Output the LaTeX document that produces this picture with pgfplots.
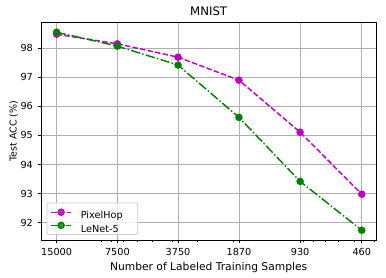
\documentclass[border=0pt]{standalone}
\usepackage{fontspec}
\setmainfont{DejaVu Sans}
\usepackage{pgfplots}
\pgfplotsset{compat=1.18}
\definecolor{mplm}{rgb}{0.75,0,0.75}
\definecolor{mplg}{rgb}{0,0.5,0}
\definecolor{gridc}{HTML}{B0B0B0}
\newcommand{\legtext}[1]{\makebox[53.7pt][l]{\rule[-3.7pt]{0pt}{18.7pt}#1}}
\begin{document}
\begin{tikzpicture}
\useasboundingbox (-41.3pt,-38pt) rectangle (344.7pt,240pt);
\begin{axis}[
  scale only axis,
  width=334.7pt, height=217.7pt,
  xmode=log, x dir=reverse,
  xmin=391, xmax=17880,
  ymin=91.405, ymax=98.89,
  xtick={15000,7500,3750,1870,930,460},
  xticklabels={15000,7500,3750,1870,930,460},
  minor xtick={9000,8000,7000,6000,5000,4000,3000,2000,900,800,700,600,500,400},
  ytick={92,93,94,95,96,97,98},
  yticklabels={92,93,94,95,96,97,98},
  tick align=outside,
  major tick length=3.4pt,
  minor tick length=1.9pt,
  tick style={black, line width=0.77pt},
  xtick pos=bottom, ytick pos=left,
  axis line style={line width=0.77pt},
  grid=major,
  major grid style={gridc, line width=0.77pt},
  tick label style={font=\fontsize{9.7}{11.6}\selectfont},
  xticklabel style={yshift=-1pt},
  yticklabel style={xshift=-1.5pt},
  title={MNIST},
  every axis title/.style={at={(axis description cs:0.5,1)}, anchor=base, yshift=6.3pt, font=\fontsize{11.7}{14}\selectfont},
  xlabel={Number of Labeled Training Samples},
  every axis x label/.style={at={(axis description cs:0.5,0)}, anchor=base, yshift=-31pt, font=\fontsize{10.7}{12.8}\selectfont},
  ylabel={Test ACC (\%)},
  every axis y label/.style={at={([xshift=-24.6pt]axis description cs:0,0.5)}, anchor=base, rotate=90, font=\fontsize{9.5}{11.4}\selectfont},
  legend style={at={(axis description cs:0,0)}, anchor=south west, xshift=5.4pt, yshift=5pt,
    draw={rgb,1:red,0.8;green,0.8;blue,0.8}, line width=0.8pt, rounded corners=2pt, fill=white, fill opacity=0.8, text opacity=1,
    font=\fontsize{9.7}{11.6}\selectfont, inner xsep=3.3pt, inner ysep=1pt,
    nodes={inner sep=0pt}, row sep=-3.4pt, column sep=0pt,
    /tikz/every odd column/.append style={column sep=9pt}},
  legend cell align=left,
  legend image code/.code={\path[draw=none,fill=none] (0pt,-3pt) (0pt,5.7pt);\draw[mark repeat=2,mark phase=2] plot coordinates {(0pt,0pt) (10pt,0pt) (20pt,0pt)};},
]
\addplot[mplm, line width=1.45pt, dash pattern=on 5.4pt off 2.3pt, mark=*, mark size=3pt, mark options={solid}]
  coordinates {(15000,98.48) (7500,98.15) (3750,97.69) (1870,96.90) (930,95.11) (460,92.98)};
\addlegendentry{\legtext{PixelHop}}
\addplot[mplg, line width=1.45pt, dash pattern=on 9.3pt off 2.3pt on 1.45pt off 2.3pt, mark=*, mark size=3pt, mark options={solid}]
  coordinates {(15000,98.55) (7500,98.07) (3750,97.42) (1870,95.62) (930,93.42) (460,91.74)};
\addlegendentry{\legtext{LeNet-5}}
\end{axis}
\end{tikzpicture}
\end{document}
